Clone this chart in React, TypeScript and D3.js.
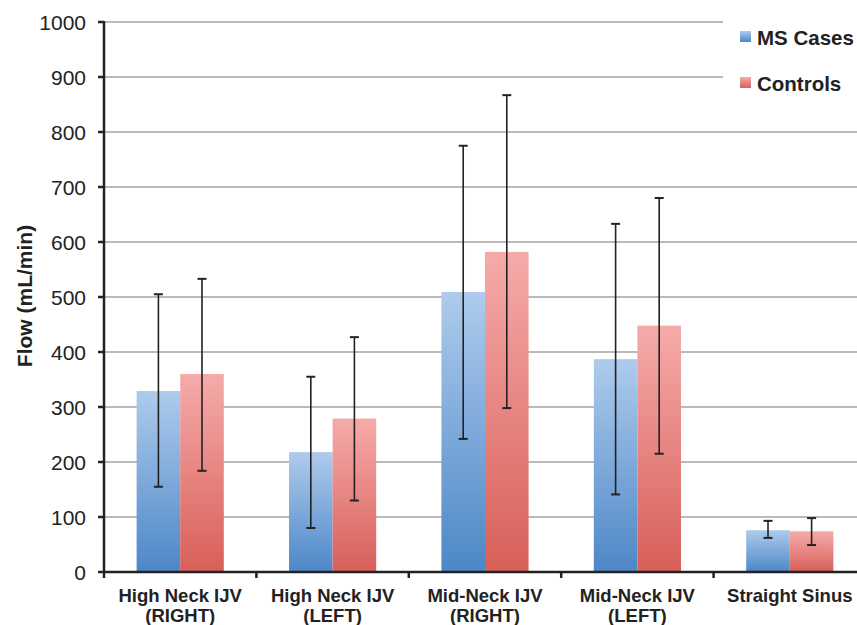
import React from "react";
import * as d3 from "d3";

const categories = [
  ["High Neck IJV", "(RIGHT)"],
  ["High Neck IJV", "(LEFT)"],
  ["Mid-Neck IJV", "(RIGHT)"],
  ["Mid-Neck IJV", "(LEFT)"],
  ["Straight Sinus"],
];
const seriesNames = ["MS Cases", "Controls"];
const msValues = [329, 218, 509, 387, 76];
const msErrLow = [155, 80, 242, 141, 62];
const msErrHigh = [505, 355, 775, 633, 93];
const ctrlValues = [360, 279, 582, 448, 74];
const ctrlErrLow = [184, 130, 298, 215, 49];
const ctrlErrHigh = [533, 427, 867, 680, 98];
const yTicks = [0, 100, 200, 300, 400, 500, 600, 700, 800, 900, 1000];

const W = 857;
const H = 625;
const FONT = "'Liberation Sans', Arial, Helvetica, sans-serif";

export default function App() {
  const x0 = 104;
  const x1 = 866;
  const yTop = 22;
  const yBot = 572;
  const y = d3.scaleLinear().domain([0, 1000]).range([yBot, yTop]);
  const xBand = d3
    .scaleBand<number>()
    .domain(categories.map((_, i) => i))
    .range([x0, x1])
    .paddingInner(0)
    .paddingOuter(0);
  const bw = xBand.bandwidth();
  const barW = bw * 0.286;
  const series = [
    { vals: msValues, lo: msErrLow, hi: msErrHigh, grad: "gBlue" },
    { vals: ctrlValues, lo: ctrlErrLow, hi: ctrlErrHigh, grad: "gRed" },
  ];
  const dark = "#222";
  return (
    <svg
      width={W}
      height={H}
      style={{ position: "absolute", left: 0, top: 0, background: "#fff" }}
      fontFamily={FONT}
    >
      <defs>
        <linearGradient id="gBlue" x1="0" y1="0" x2="0" y2="1">
          <stop offset="0" stopColor="#aecbec" />
          <stop offset="1" stopColor="#4d87c7" />
        </linearGradient>
        <linearGradient id="gRed" x1="0" y1="0" x2="0" y2="1">
          <stop offset="0" stopColor="#f5abaa" />
          <stop offset="1" stopColor="#d85f59" />
        </linearGradient>
      </defs>
      {yTicks
        .filter((t) => t > 0)
        .map((t) => (
          <line
            key={t}
            x1={x0}
            x2={t >= 900 ? 723 : W}
            y1={y(t)}
            y2={y(t)}
            stroke="#a3a3a3"
            strokeWidth={1.6}
          />
        ))}
      {categories.map((_, i) => {
        const cx = (xBand(i) as number) + bw / 2;
        return series.map((s, j) => {
          const bx = cx - barW + j * barW;
          return (
            <rect
              key={`${i}-${j}`}
              x={bx}
              y={y(s.vals[i])}
              width={barW}
              height={y(0) - y(s.vals[i])}
              fill={`url(#${s.grad})`}
            />
          );
        });
      })}
      {categories.map((_, i) => {
        const cx = (xBand(i) as number) + bw / 2;
        return series.map((s, j) => {
          const ex = cx - barW / 2 + j * barW;
          return (
            <g key={`e${i}-${j}`} stroke={dark} strokeWidth={1.6}>
              <line x1={ex} x2={ex} y1={y(s.lo[i])} y2={y(s.hi[i])} />
              <line x1={ex - 4.5} x2={ex + 4.5} y1={y(s.lo[i])} y2={y(s.lo[i])} strokeWidth={2} />
              <line x1={ex - 4.5} x2={ex + 4.5} y1={y(s.hi[i])} y2={y(s.hi[i])} strokeWidth={2} />
            </g>
          );
        });
      })}
      <line x1={x0} x2={x0} y1={yTop - 1} y2={yBot + 1} stroke={dark} strokeWidth={2.5} />
      <line x1={x0 - 1} x2={W} y1={yBot} y2={yBot} stroke={dark} strokeWidth={2.5} />
      {yTicks.map((t) => (
        <g key={`yt${t}`}>
          <line x1={x0 - 6} x2={x0} y1={y(t)} y2={y(t)} stroke={dark} strokeWidth={2.5} />
          <text x={86} y={y(t)} dy="0.36em" textAnchor="end" fontSize={21} fill="#222">
            {t}
          </text>
        </g>
      ))}
      {categories.map((_, i) => (
        <line
          key={`xt${i}`}
          x1={xBand(i) as number}
          x2={xBand(i) as number}
          y1={yBot}
          y2={yBot + 6}
          stroke={dark}
          strokeWidth={2.5}
        />
      ))}
      {categories.map((lines, i) => {
        const cx = (xBand(i) as number) + bw / 2;
        return (
          <text key={`xl${i}`} textAnchor="middle" fontSize={18.5} fontWeight="bold" fill="#222">
            {lines.map((ln, k) => (
              <tspan key={k} x={cx} y={602 + k * 20}>
                {ln}
              </tspan>
            ))}
          </text>
        );
      })}
      <text
        transform={`translate(32, 296) rotate(-90)`}
        textAnchor="middle"
        fontSize={21}
        fontWeight="bold"
        fill="#222"
      >
        Flow (mL/min)
      </text>
      {seriesNames.map((n, j) => (
        <g key={n}>
          <rect x={740} y={31 + j * 46} width={11} height={11} fill={`url(#${j === 0 ? "gBlue" : "gRed"})`} />
          <text x={757} y={45 + j * 46} fontSize={20.5} fontWeight="bold" fill="#222">
            {n}
          </text>
        </g>
      ))}
    </svg>
  );
}
